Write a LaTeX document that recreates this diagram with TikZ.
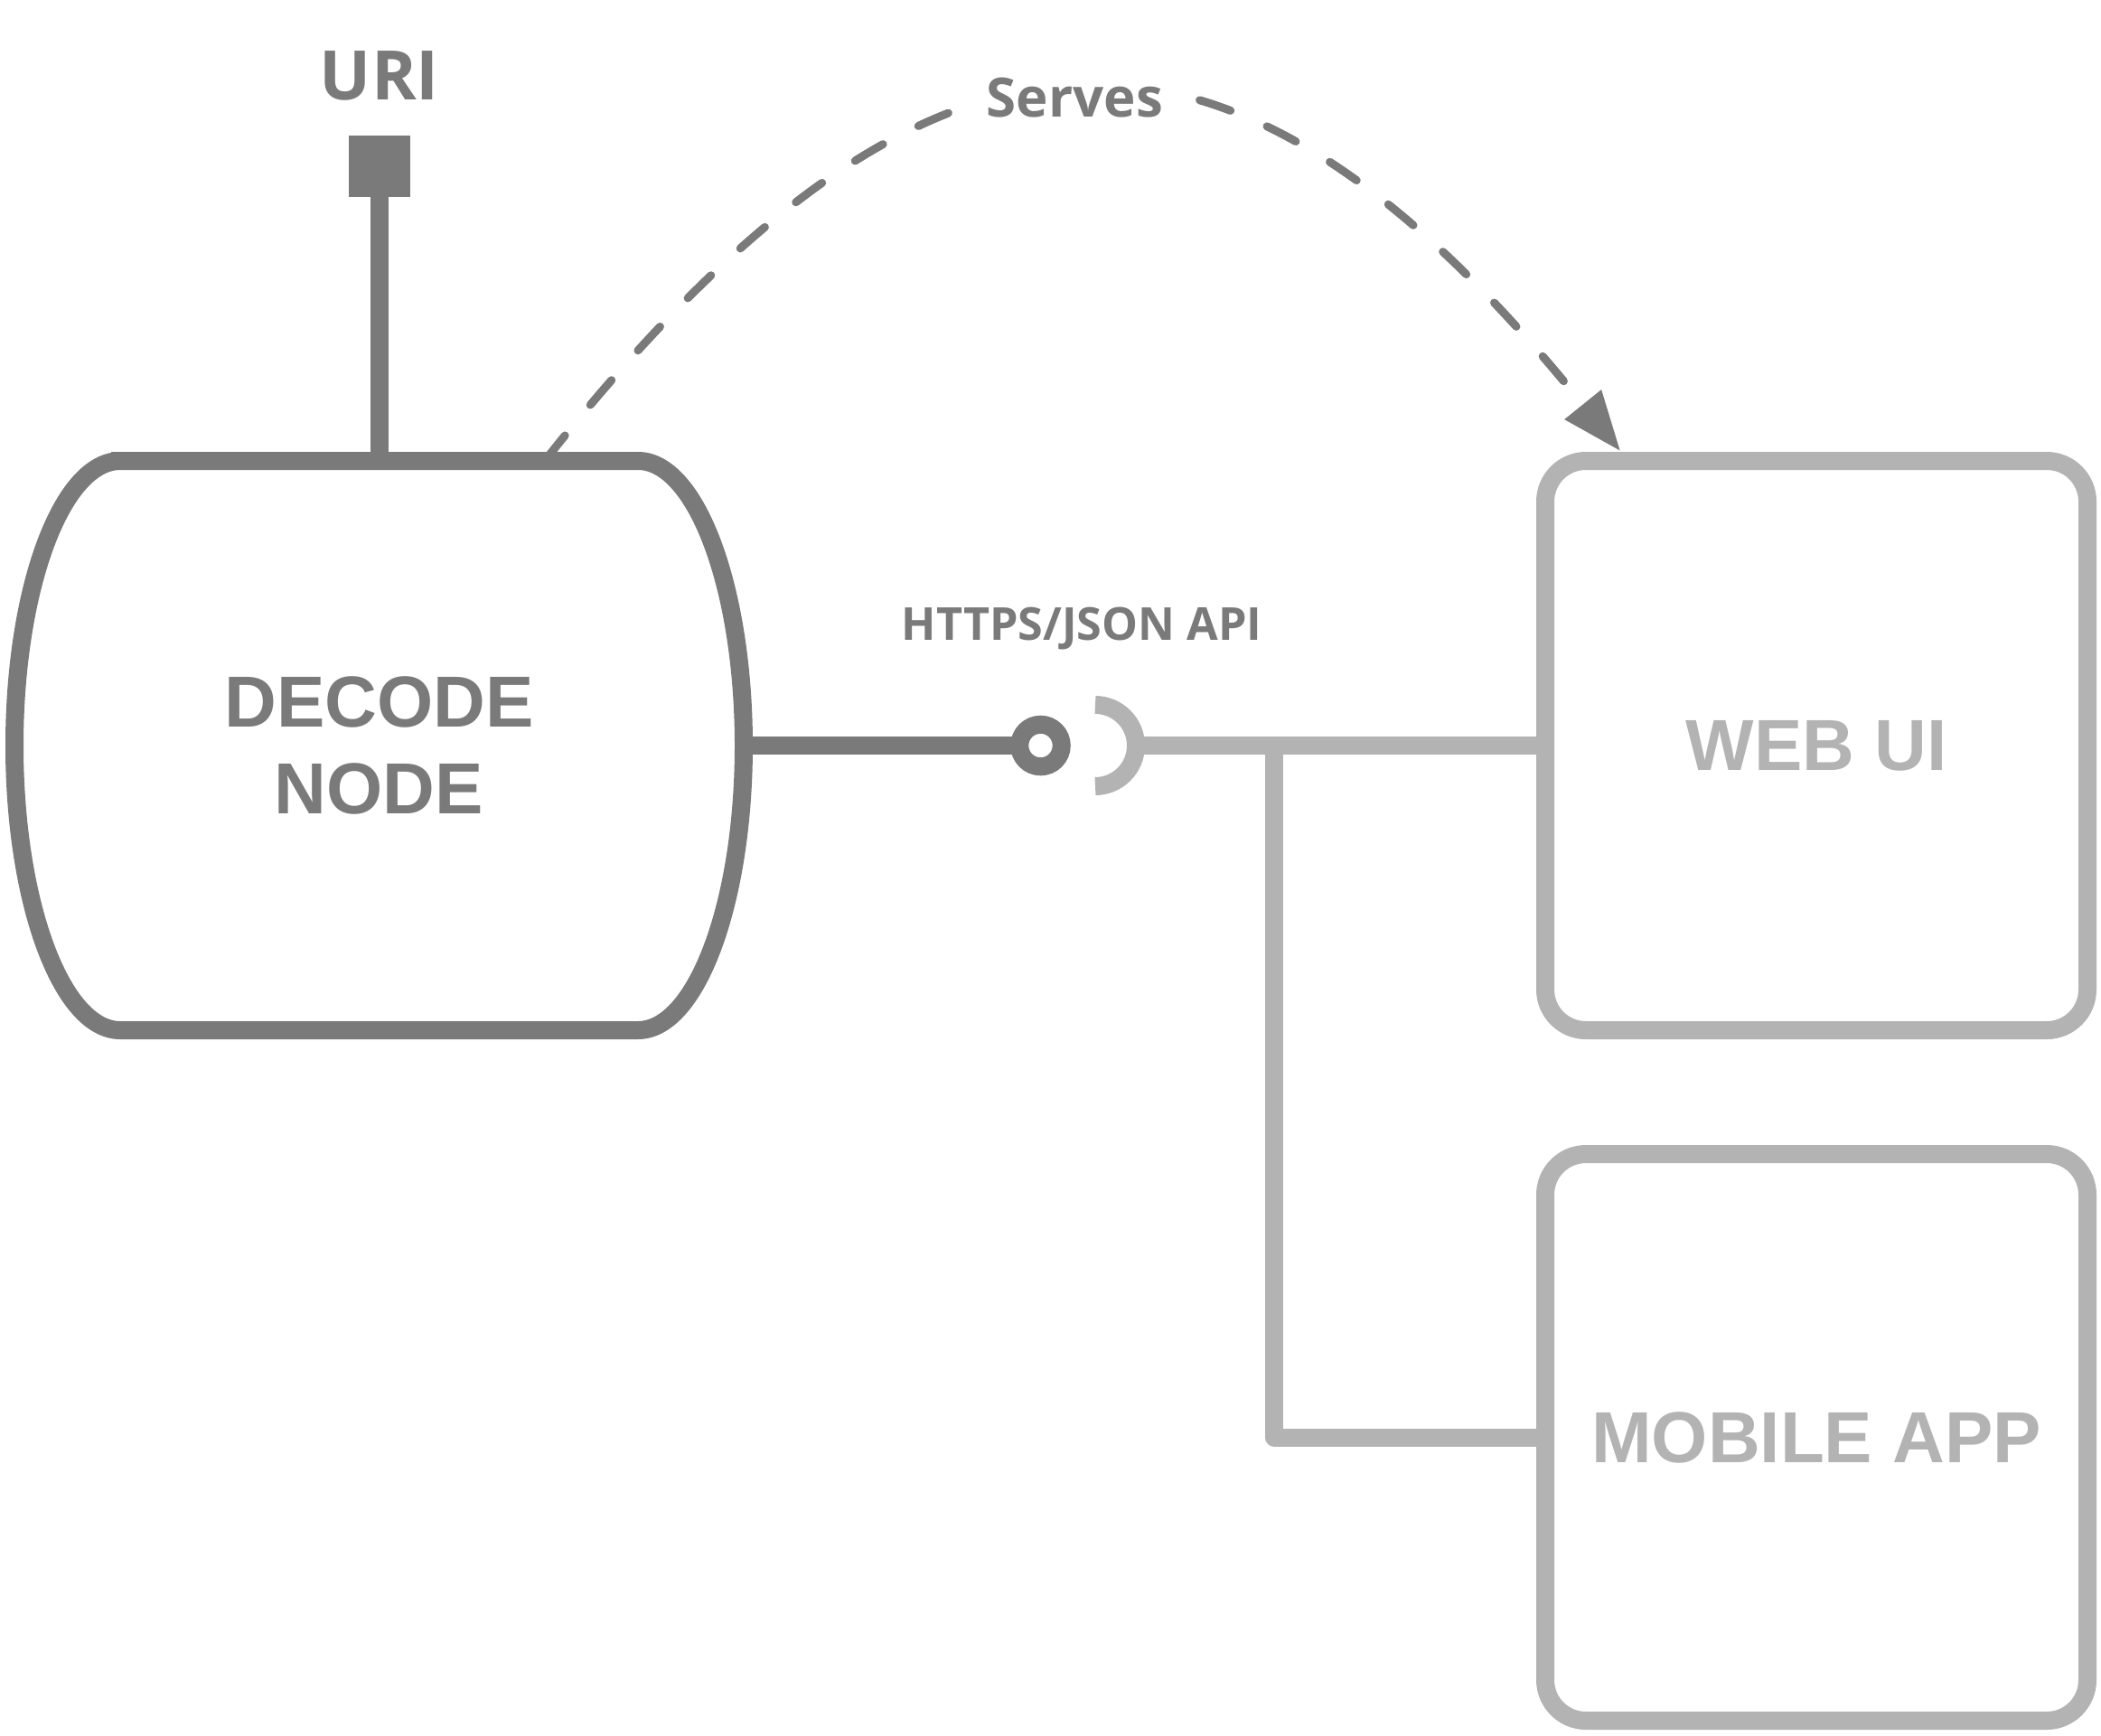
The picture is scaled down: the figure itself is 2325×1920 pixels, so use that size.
\documentclass[tikz,border=0pt]{standalone}
\usepackage{fontspec}
\setmainfont{Liberation Sans}
\newfontfamily\osfont{Open Sans}
\usetikzlibrary{arrows.meta,calc}
\definecolor{darkg}{HTML}{7A7A7A}
\definecolor{lightg}{HTML}{B3B3B3}
\begin{document}
\begin{tikzpicture}[x=0.1mm,y=-0.1mm,
  darkline/.style={draw=darkg,line width=2mm},
  lightline/.style={draw=lightg,line width=2mm},
  boxlabel/.style={font=\fontsize{22.76pt}{27.3pt}\selectfont\bfseries},
  lightbox/.style={lightline, rounded corners=4.5mm, minimum width=60mm, inner sep=0, outer sep=0, boxlabel, text=lightg},
  servesline/.style={draw=darkg, line width=0.9mm, line cap=round, dash pattern=on 3.6mm off 4.4mm}
]
\useasboundingbox (0,0) rectangle (2325,1920);

% decode node outline
\draw[darkline, fill=white] (133,510) -- (706,510)
  arc[start angle=90,end angle=-90,x radius=11.7mm,y radius=31.5mm]
  -- (133,1140)
  arc[start angle=270,end angle=90,x radius=11.7mm,y radius=31.5mm] -- cycle;
\node[boxlabel, text=darkg, align=center, minimum width=80.7mm, minimum height=63mm, inner sep=0, outer sep=0] (decode) at (419.5,825) {DECODE\\NODE};

% URI port
\node[fill=darkg, minimum size=6.8mm, inner sep=0, outer sep=0] (uriport) at (420,184) {};
\node[font=\osfont\bfseries\fontsize{21.5pt}{21.5pt}\selectfont, text=darkg, inner sep=0] (urilabel) at (420,84) {URI};
\draw[darkline] (uriport.south) -- (uriport.south |- decode.north);

% provided interface (ball)
\node[circle, draw=darkg, fill=white, line width=2mm, minimum size=4.65mm, inner sep=0, outer sep=0] (ball) at (1151.5,825) {};
\draw[darkline] (decode.east) -- (ball.west);

% required interface (socket)
\coordinate (socket) at (1212,825);
\coordinate (socketeast) at (1257,825);
\draw[lightline] ($(socket)+(0,-45)$) arc[start angle=90,end angle=-90,radius=4.5mm];

\node[font=\osfont\bfseries\fontsize{14.3pt}{14.3pt}\selectfont, text=darkg, inner sep=0, anchor=base] (apilabel) at (1197,708) {HTTPS/JSON API};

% clients
\node[lightbox, minimum height=63mm] (webui) at (2010,825) {WEB UI};
\node[lightbox, minimum height=62.7mm] (mobile) at (2010,1590.5) {MOBILE APP};

\draw[lightline] (socketeast) -- (webui.west);
\coordinate (branch) at (1410,825);
\draw[lightline, line join=round] (branch) |- (mobile.west);

% serves
\draw[servesline, -{Triangle[length=6.6mm,width=5mm]}]
  ($(decode.north west)!0.727!(decode.north east)$)
  .. controls (1034,-35) and (1363,-35) ..
  ($(webui.north west)+(83,-11)$)
  node[pos=0.5, fill=white, inner sep=2.5mm, xshift=-0.9mm, yshift=-0.8mm, text=darkg, font=\osfont\bfseries\fontsize{17.07pt}{17.07pt}\selectfont] (serveslabel) {Serves};
\end{tikzpicture}
\end{document}
